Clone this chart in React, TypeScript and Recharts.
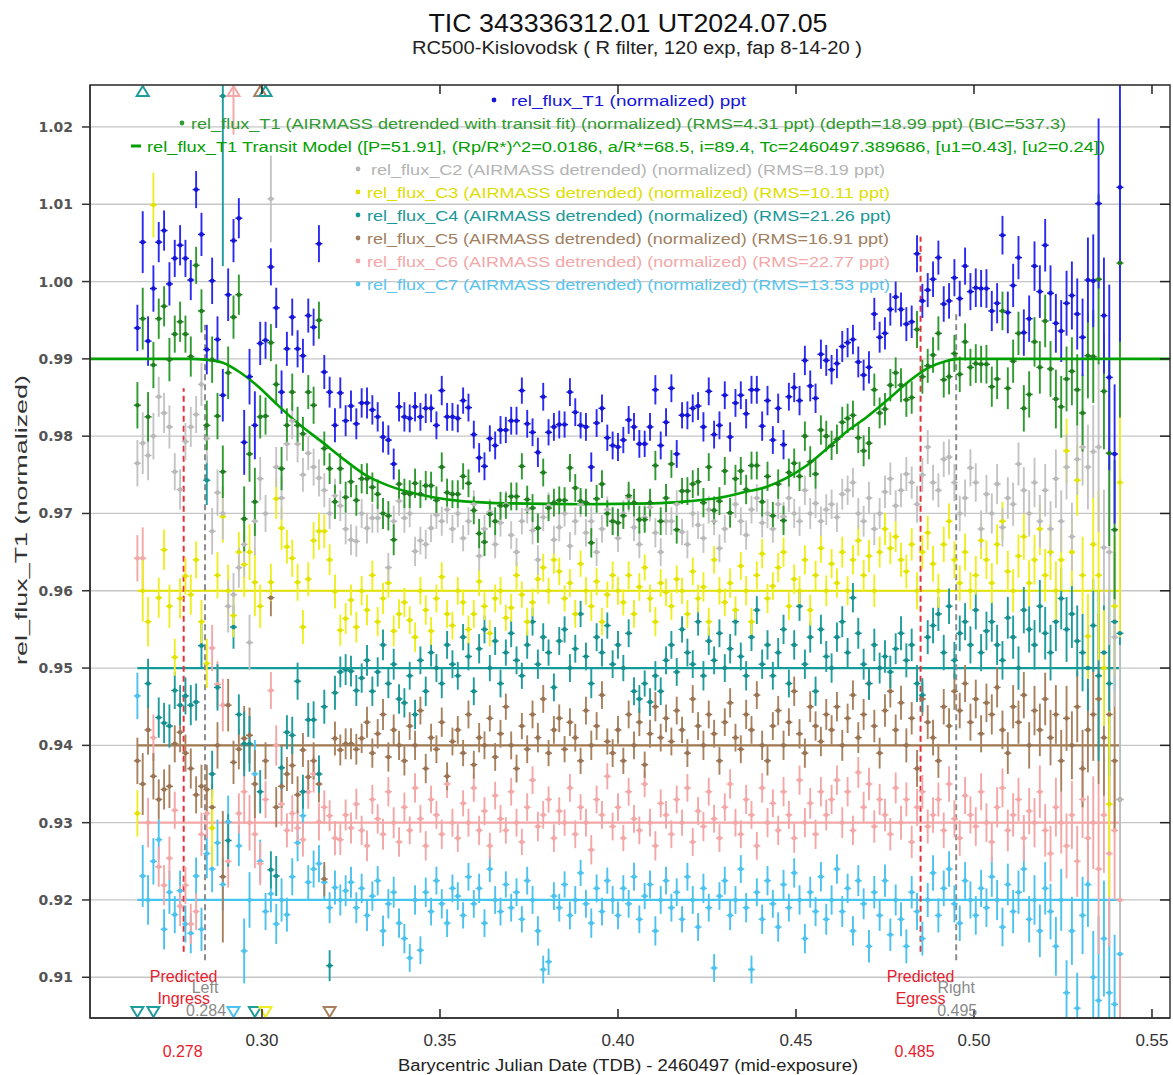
import React from "react";
import { ComposedChart, Scatter, Line, XAxis, YAxis, CartesianGrid, ErrorBar, ReferenceLine } from "recharts";

// plot frame (px) and axis ranges
const W = 1173;
const H = 1075;
const PLOT = { left: 90, right: 1170, top: 85, bottom: 1018 };
const X_MIN = 0.25169;
const X_MAX = 0.55506;
const Y_MIN = 0.90473;
const Y_MAX = 1.02543;

const FONT = "'Liberation Sans', Arial, sans-serif";

type Val = number | [number, number];

// BJD_TDB - 2460497
const times = [
  0.2650, 0.2665, 0.2680, 0.2695, 0.2710, 0.2725, 0.2740, 0.2755, 0.2770, 0.2785,
  0.2800, 0.2815, 0.2830, 0.2845, 0.2860, 0.2875, 0.2890, 0.2905, 0.2920, 0.2935,
  0.2950, 0.2965, 0.2980, 0.2995, 0.3010, 0.3025, 0.3040, 0.3055, 0.3070, 0.3085,
  0.3100, 0.3115, 0.3130, 0.3145, 0.3160, 0.3175, 0.3190, 0.3205, 0.3220, 0.3235,
  0.3250, 0.3265, 0.3280, 0.3295, 0.3310, 0.3325, 0.3340, 0.3355, 0.3370, 0.3385,
  0.3400, 0.3415, 0.3430, 0.3445, 0.3460, 0.3475, 0.3490, 0.3505, 0.3520, 0.3535,
  0.3550, 0.3565, 0.3580, 0.3595, 0.3610, 0.3625, 0.3640, 0.3655, 0.3670, 0.3685,
  0.3700, 0.3715, 0.3730, 0.3745, 0.3760, 0.3775, 0.3790, 0.3805, 0.3820, 0.3835,
  0.3850, 0.3865, 0.3880, 0.3895, 0.3910, 0.3925, 0.3940, 0.3955, 0.3970, 0.3985,
  0.4000, 0.4015, 0.4030, 0.4045, 0.4060, 0.4075, 0.4090, 0.4105, 0.4120, 0.4135,
  0.4150, 0.4165, 0.4180, 0.4195, 0.4210, 0.4225, 0.4240, 0.4255, 0.4270, 0.4285,
  0.4300, 0.4315, 0.4330, 0.4345, 0.4360, 0.4375, 0.4390, 0.4405, 0.4420, 0.4435,
  0.4450, 0.4465, 0.4480, 0.4495, 0.4510, 0.4525, 0.4540, 0.4555, 0.4570, 0.4585,
  0.4600, 0.4615, 0.4630, 0.4645, 0.4660, 0.4675, 0.4690, 0.4705, 0.4720, 0.4735,
  0.4750, 0.4765, 0.4780, 0.4795, 0.4810, 0.4825, 0.4840, 0.4855, 0.4870, 0.4885,
  0.4900, 0.4915, 0.4930, 0.4945, 0.4960, 0.4975, 0.4990, 0.5005, 0.5020, 0.5035,
  0.5050, 0.5065, 0.5080, 0.5095, 0.5110, 0.5125, 0.5140, 0.5155, 0.5170, 0.5185,
  0.5200, 0.5215, 0.5230, 0.5245, 0.5260, 0.5275, 0.5290, 0.5305, 0.5320, 0.5335,
  0.5350, 0.5365, 0.5380, 0.5395, 0.5410,
];

// photometric error per exposure (shared, airmass driven)
const errs = [
  0.0030, 0.0040, 0.0032, 0.0030, 0.0026, 0.0026, 0.0028, 0.0024, 0.0026, 0.0024,
  0.0026, 0.0024, 0.0028, 0.0032, 0.0030, 0.0030, 0.0034, 0.0034, 0.0028, 0.0026,
  0.0042, 0.0036, 0.0044, 0.0028, 0.0024, 0.0024, 0.0026, 0.0028, 0.0022, 0.0024,
  0.0024, 0.0022, 0.0022, 0.0024, 0.0024, 0.0022, 0.0020, 0.0022, 0.0020, 0.0020,
  0.0020, 0.0020, 0.0019, 0.0020, 0.0019, 0.0019, 0.0020, 0.0019, 0.0020, 0.0019,
  0.0019, 0.0018, 0.0019, 0.0018, 0.0019, 0.0018, 0.0018, 0.0019, 0.0018, 0.0018,
  0.0018, 0.0017, 0.0018, 0.0018, 0.0019, 0.0018, 0.0017, 0.0018, 0.0018, 0.0017,
  0.0018, 0.0018, 0.0017, 0.0018, 0.0018, 0.0019, 0.0018, 0.0017, 0.0018, 0.0018,
  0.0017, 0.0018, 0.0018, 0.0017, 0.0018, 0.0019, 0.0018, 0.0018, 0.0017, 0.0018,
  0.0018, 0.0017, 0.0018, 0.0018, 0.0018, 0.0017, 0.0018, 0.0019, 0.0018, 0.0018,
  0.0018, 0.0018, 0.0017, 0.0018, 0.0018, 0.0018, 0.0019, 0.0018, 0.0018, 0.0018,
  0.0018, 0.0019, 0.0018, 0.0018, 0.0019, 0.0018, 0.0018, 0.0019, 0.0019, 0.0018,
  0.0019, 0.0019, 0.0018, 0.0019, 0.0019, 0.0019, 0.0020, 0.0019, 0.0019, 0.0020,
  0.0019, 0.0019, 0.0020, 0.0019, 0.0019, 0.0020, 0.0020, 0.0021, 0.0021, 0.0020,
  0.0021, 0.0021, 0.0020, 0.0022, 0.0022, 0.0021, 0.0024, 0.0022, 0.0022, 0.0023,
  0.0022, 0.0023, 0.0023, 0.0024, 0.0023, 0.0024, 0.0024, 0.0025, 0.0024, 0.0025,
  0.0026, 0.0026, 0.0025, 0.0027, 0.0028, 0.0028, 0.0030, 0.0030, 0.0032, 0.0034,
  0.0034, 0.0036, 0.0038, 0.0040, 0.0042, 0.0044, 0.0046, 0.0050, 0.0055, 0.0060,
  0.0110, 0.0075, 0.0120, 0.0090, 0.0200,
];

const t1Flux: Val[] = [
  0.9940, 1.0051, 0.9923, 0.9991, 1.0051, 1.0066, 0.9997, 1.0030, 1.0047, 1.0030,
  1.0002, 1.0119, 1.0061, 0.9912, 1.0001, 0.9925, 0.9853, 0.9983, 1.0053, 1.0082,
  0.9792, 0.9877, 0.9814, 0.9920, 0.9924, 1.0019, 0.9966, 0.9857, 0.9913, 0.9954,
  0.9913, 0.9904, 0.9956, 0.9941, 1.0049, 0.9883, 0.9857, 0.9814, 0.9856, 0.9820,
  0.9839, 0.9816, 0.9843, 0.9843, 0.9834, 0.9825, 0.9799, 0.9795, 0.9764, 0.9838,
  0.9825, 0.9823, 0.9838, 0.9825, 0.9836, 0.9836, 0.9814, 0.9859, 0.9825, 0.9825,
  0.9823, 0.9846, 0.9837, 0.9802, 0.9772, 0.9761, 0.9797, 0.9788, 0.9808, 0.9808,
  0.9820, 0.9820, 0.9859, 0.9816, 0.9805, 0.9779, 0.9851, 0.9805, 0.9812, 0.9815,
  0.9815, 0.9857, 0.9831, 0.9814, 0.9812, 0.9760, 0.9817, 0.9836, 0.9798, 0.9788,
  0.9786, 0.9795, 0.9821, 0.9812, 0.9790, 0.9790, 0.9812, 0.9860, 0.9788, 0.9818,
  0.9862, 0.9777, 0.9827, 0.9827, 0.9836, 0.9839, 0.9812, 0.9858, 0.9802, 0.9814,
  0.9853, 0.9799, 0.9843, 0.9853, 0.9829, 0.9860, 0.9860, 0.9813, 0.9846, 0.9795,
  0.9836, 0.9789, 0.9851, 0.9863, 0.9846, 0.9898, 0.9865, 0.9849, 0.9906, 0.9898,
  0.9886, 0.9894, 0.9916, 0.9921, 0.9925, 0.9896, 0.9879, 0.9889, 0.9958, 0.9928,
  0.9933, 0.9964, 0.9980, 0.9964, 0.9945, 0.9948, 1.0036, 0.9975, 0.9989, 1.0003,
  1.0031, 0.9971, 0.9975, 1.0005, 0.9978, 1.0020, 0.9987, 0.9992, 0.9991, 0.9991,
  0.9962, 0.9972, 1.0060, 0.9960, 0.9995, 1.0031, 0.9934, 0.9952, 1.0020, 0.9987,
  1.0047, 0.9985, 0.9946, 0.9936, 0.9972, 0.9982, 0.9958, 0.9928, 1.0002, 1.0001,
  1.0101, 0.9956, 0.9876, 0.9777, 1.0122,
];

const t1Detrended: Val[] = [
  0.9840, 0.9952, 0.9825, 0.9892, 0.9952, 0.9968, 0.9899, 0.9932, 0.9948, 0.9932,
  0.9903, 1.0021, 0.9962, 0.9814, 0.9899, 0.9826, 0.9754, 0.9882, 0.9954, 0.9983,
  0.9693, 0.9777, 0.9715, 0.9825, 0.9826, 0.9921, 0.9867, 0.9758, 0.9814, 0.9857,
  0.9814, 0.9803, 0.9857, 0.9840, 0.9950, 0.9784, 0.9758, 0.9715, 0.9758, 0.9721,
  0.9741, 0.9717, 0.9745, 0.9745, 0.9734, 0.9725, 0.9700, 0.9697, 0.9666, 0.9738,
  0.9726, 0.9725, 0.9739, 0.9725, 0.9736, 0.9736, 0.9717, 0.9760, 0.9727, 0.9725,
  0.9725, 0.9748, 0.9739, 0.9704, 0.9674, 0.9663, 0.9699, 0.9690, 0.9710, 0.9710,
  0.9722, 0.9722, 0.9761, 0.9718, 0.9707, 0.9681, 0.9753, 0.9707, 0.9714, 0.9717,
  0.9717, 0.9759, 0.9733, 0.9716, 0.9714, 0.9662, 0.9719, 0.9738, 0.9700, 0.9690,
  0.9688, 0.9697, 0.9723, 0.9714, 0.9692, 0.9692, 0.9714, 0.9762, 0.9690, 0.9720,
  0.9764, 0.9679, 0.9729, 0.9729, 0.9738, 0.9741, 0.9714, 0.9760, 0.9704, 0.9716,
  0.9755, 0.9701, 0.9745, 0.9755, 0.9731, 0.9762, 0.9762, 0.9715, 0.9748, 0.9697,
  0.9738, 0.9691, 0.9753, 0.9765, 0.9748, 0.9800, 0.9767, 0.9751, 0.9808, 0.9800,
  0.9788, 0.9796, 0.9818, 0.9823, 0.9827, 0.9798, 0.9781, 0.9791, 0.9860, 0.9830,
  0.9835, 0.9866, 0.9882, 0.9866, 0.9847, 0.9850, 0.9938, 0.9877, 0.9891, 0.9905,
  0.9933, 0.9873, 0.9877, 0.9907, 0.9880, 0.9922, 0.9889, 0.9894, 0.9893, 0.9893,
  0.9864, 0.9874, 0.9962, 0.9862, 0.9897, 0.9933, 0.9836, 0.9854, 0.9922, 0.9889,
  0.9949, 0.9887, 0.9848, 0.9838, 0.9874, 0.9884, 0.9860, 0.9830, 0.9904, 0.9903,
  1.0003, 0.9858, 0.9778, 0.9679, 1.0024,
];

const c2Flux: Val[] = [
  0.9765, 0.9791, 0.9775, 0.9800, 0.9851, 0.9830, 0.9812, 0.9754, 0.9731, 0.9793,
  0.9812, 0.9828, 0.9867, 0.9797, 0.9677, 0.9727, 0.9700, 0.9580, 0.9595, 0.9630,
  0.9660, 0.9533, 0.9690, 0.9745, 0.9700, [1.0107, 0.0056], 0.9760, 0.9720, 0.9790, 0.9820,
  0.9790, 0.9750, 0.9778, 0.9760, 0.9746, 0.9730, 0.9700, 0.9723, 0.9710, 0.9680,
  0.9666, 0.9664, 0.9700, 0.9681, 0.9694, 0.9694, 0.9700, 0.9630, 0.9690, 0.9716,
  0.9694, 0.9700, 0.9651, 0.9665, 0.9660, 0.9681, 0.9698, 0.9690, 0.9705, 0.9680,
  0.9700, 0.9668, 0.9690, 0.9712, 0.9645, 0.9680, 0.9702, 0.9660, 0.9688, 0.9712,
  0.9672, 0.9650, 0.9690, 0.9705, 0.9678, 0.9640, 0.9695, 0.9710, 0.9666, 0.9682,
  0.9700, 0.9658, 0.9690, 0.9712, 0.9675, 0.9690, 0.9650, 0.9680, 0.9705, 0.9690,
  0.9668, 0.9700, 0.9720, 0.9682, 0.9660, 0.9695, 0.9708, 0.9675, 0.9650, 0.9690,
  0.9690, 0.9712, 0.9676, 0.9660, 0.9700, 0.9685, 0.9668, 0.9705, 0.9690, 0.9655,
  0.9680, 0.9700, 0.9712, 0.9690, 0.9672, 0.9705, 0.9720, 0.9688, 0.9700, 0.9680,
  0.9712, 0.9696, 0.9720, 0.9700, 0.9690, 0.9730, 0.9700, 0.9713, 0.9690, 0.9705,
  0.9712, 0.9695, 0.9725, 0.9730, 0.9740, 0.9700, 0.9690, 0.9720, 0.9680, 0.9700,
  0.9728, 0.9745, 0.9710, 0.9730, 0.9751, 0.9740, 0.9712, 0.9750, 0.9786, 0.9740,
  0.9730, 0.9770, 0.9773, 0.9740, 0.9700, 0.9720, 0.9759, 0.9740, 0.9680, 0.9725,
  0.9700, 0.9738, 0.9682, 0.9720, 0.9712, 0.9764, 0.9730, 0.9700, 0.9740, 0.9690,
  0.9730, 0.9680, 0.9745, 0.9690, 0.9760, 0.9670, 0.9770, 0.9786, 0.9760, 0.9780,
  0.9786, 0.9656, 0.9650, 0.9540, 0.9330,
];

const c3Flux: Val[] = [
  0.9312, 0.9600, 0.9560, [1.0099, 0.0042], 0.9591, 0.9653, 0.9580, 0.9514, 0.9590, 0.9619,
  0.9595, 0.9640, 0.9560, 0.9506, [0.9293, 0.0050], 0.9620, 0.9696, 0.9600, 0.9568, 0.9650,
  0.9634, 0.9650, 0.9611, 0.9580, 0.8900, 0.9611, 0.9719, 0.9681, 0.9657, 0.9642,
  0.9611, 0.9553, 0.9615, 0.9665, 0.9677, 0.9677, 0.9640, 0.9599, 0.9549, 0.9564,
  0.9588, 0.9553, 0.9600, 0.9575, 0.9620, 0.9560, 0.9590, 0.9610, 0.9548, 0.9570,
  0.9585, 0.9562, 0.9540, 0.9600, 0.9575, 0.9548, 0.9590, 0.9618, 0.9570, 0.9555,
  0.9600, 0.9585, 0.9550, 0.9570, 0.9612, 0.9580, 0.9545, 0.9590, 0.9600, 0.9565,
  0.9578, 0.9620, 0.9595, 0.9560, 0.9585, 0.9615, 0.9630, 0.9600, 0.9640, 0.9625,
  0.9590, 0.9610, 0.9570, 0.9635, 0.9600, 0.9580, 0.9612, 0.9560, 0.9595, 0.9620,
  0.9600, 0.9585, 0.9620, 0.9570, 0.9605, 0.9630, 0.9590, 0.9560, 0.9610, 0.9598,
  0.9580, 0.9615, 0.9600, 0.9570, 0.9625, 0.9590, 0.9605, 0.9560, 0.9640, 0.9600,
  0.9585, 0.9610, 0.9575, 0.9632, 0.9600, 0.9560, 0.9620, 0.9648, 0.9590, 0.9606,
  0.9630, 0.9650, 0.9580, 0.9615, 0.9600, 0.9640, 0.9575, 0.9620, 0.9655, 0.9600,
  0.9635, 0.9610, 0.9650, 0.9600, 0.9640, 0.9665, 0.9620, 0.9645, 0.9600, 0.9650,
  0.9680, 0.9655, 0.9670, 0.9640, 0.9625, 0.9660, 0.9600, 0.9650, 0.9675, 0.9635,
  0.9600, 0.9660, 0.9690, 0.9640, 0.9610, 0.9650, 0.9600, 0.9620, 0.9665, 0.9640,
  0.9610, 0.9660, 0.9690, 0.9625, 0.9600, 0.9645, 0.9670, 0.9610, 0.9640, 0.9680,
  0.9620, 0.9650, 0.9600, 0.9640, 0.9781, 0.9650, 0.9743, 0.9620, 0.9541, 0.9660,
  0.9620, 0.9500, 0.9324, 0.9580, 0.9740,
];

const c4Flux: Val[] = [
  0.8950, 1.0400, 0.9480, 0.8980, 0.9436, 0.9429, 0.9425, 0.9471, 0.9452, 0.9464,
  0.9452, 0.9456, 0.9529, 0.9743, 0.9363, 0.9475, [1.0240, 0.0220], 0.9277, 0.9553, 0.9440,
  0.9402, 0.9402, 0.8970, 0.9340, 1.0350, 0.9239, 0.9231, 0.9371, 0.9417, 0.9413,
  0.9483, 0.9340, 0.9433, 0.9433, 0.9363, 0.9450, 0.9115, 0.9468, 0.9495, 0.9498,
  0.9496, 0.9471, 0.9487, 0.9510, 0.9470, 0.9495, 0.9530, 0.9480, 0.9505, 0.9460,
  0.9455, 0.9490, 0.9440, 0.9510, 0.9470, 0.9520, 0.9500, 0.9480, 0.9530, 0.9505,
  0.9490, 0.9540, 0.9515, 0.9470, 0.9525, 0.9550, 0.9500, 0.9535, 0.9480, 0.9520,
  0.9545, 0.9510, 0.9490, 0.9530, 0.9560, 0.9505, 0.9540, 0.9520, 0.9475, 0.9535,
  0.9550, 0.9500, 0.9525, 0.9570, 0.9515, 0.9480, 0.9540, 0.9520, 0.9555, 0.9505,
  0.9530, 0.9500, 0.9545, 0.9470, 0.9460, 0.9480, 0.9456, 0.9490, 0.9470, 0.9510,
  0.9530, 0.9495, 0.9550, 0.9520, 0.9505, 0.9560, 0.9490, 0.9535, 0.9510, 0.9545,
  0.9500, 0.9525, 0.9560, 0.9515, 0.9490, 0.9540, 0.9575, 0.9505, 0.9530, 0.9490,
  0.9520, 0.9550, 0.9480, 0.9530, 0.9580, 0.9505, 0.9540, 0.9470, 0.9550, 0.9515,
  0.9500, 0.9540, 0.9560, 0.9520, 0.9591, 0.9545, 0.9505, 0.9480, 0.9530, 0.9500,
  0.9515, 0.9495, 0.9525, 0.9545, 0.9510, 0.9530, 0.9480, 0.9465, 0.9540, 0.9555,
  0.9570, 0.9520, 0.9580, 0.9510, 0.9545, 0.9560, 0.9530, 0.9575, 0.9520, 0.9548,
  0.9560, 0.9530, 0.9510, 0.9565, 0.9540, 0.9500, 0.9575, 0.9550, 0.9530, 0.9580,
  0.9545, 0.9520, 0.9560, 0.9590, 0.9550, 0.9570, 0.9535, 0.9520, 0.9500, 0.9555,
  0.9490, 0.9520, 0.9480, 0.9560, 0.9545,
];

const c5Flux: Val[] = [
  0.9380, 0.9350, 0.9420, 0.9360, 0.9330, 0.9343, 0.9347, 0.9402, 0.9417, 0.9390,
  0.9370, 0.9336, 0.9347, 0.9343, 0.9320, 0.9400, [0.9230, 0.0085], 0.9452, 0.9378, 0.9395,
  0.9409, 0.9413, 0.9350, 1.0300, 0.9380, 0.9591, 0.9320, 0.9347, 0.9363, 0.9374,
  0.9336, 0.9394, 0.9359, 0.9380, 0.9350, 0.9227, 0.8980, 0.9409, 0.9394, 0.9402,
  0.9402, 0.9395, 0.9409, 0.9430, 0.9390, 0.9415, 0.9440, 0.9385, 0.9420, 0.9400,
  0.9380, 0.9425, 0.9400, 0.9445, 0.9370, 0.9410, 0.9395, 0.9430, 0.9360, 0.9405,
  0.9420, 0.9390, 0.9440, 0.9375, 0.9410, 0.9400, 0.9435, 0.9385, 0.9415, 0.9450,
  0.9400, 0.9370, 0.9425, 0.9395, 0.9440, 0.9410, 0.9460, 0.9390, 0.9420, 0.9435,
  0.9395, 0.9430, 0.9410, 0.9380, 0.9445, 0.9400, 0.9425, 0.9465, 0.9405, 0.9390,
  0.9420, 0.9380, 0.9440, 0.9400, 0.9430, 0.9375, 0.9415, 0.9450, 0.9410, 0.9435,
  0.9405, 0.9445, 0.9420, 0.9390, 0.9460, 0.9425, 0.9400, 0.9440, 0.9415, 0.9380,
  0.9430, 0.9455, 0.9410, 0.9395, 0.9440, 0.9420, 0.9465, 0.9400, 0.9380, 0.9425,
  0.9445, 0.9400, 0.9430, 0.9470, 0.9415, 0.9390, 0.9450, 0.9425, 0.9405, 0.9440,
  0.9420, 0.9450, 0.9400, 0.9435, 0.9465, 0.9410, 0.9440, 0.9480, 0.9425, 0.9390,
  0.9445, 0.9470, 0.9420, 0.9455, 0.9400, 0.9435, 0.9370, 0.9460, 0.9430, 0.9410,
  0.9380, 0.9450, 0.9425, 0.9470, 0.9445, 0.9480, 0.9430, 0.9460, 0.9415, 0.9455,
  0.9440, 0.9475, 0.9420, 0.9390, 0.9450, 0.9430, 0.9465, 0.9400, 0.9445, 0.9420,
  0.9460, 0.9410, 0.9440, 0.9380, 0.9435, 0.9400, 0.9450, 0.9370, 0.9420, 0.9440,
  0.9460, 0.9410, 0.9440, 0.9380, 0.9330,
];

const c6Flux: Val[] = [
  0.9642, 0.9642, 0.9300, 0.9410, 0.9243, 0.9219, 0.9254, 0.9316, 0.9192, 0.9219,
  0.9169, 0.9185, 0.9285, 0.9312, 0.9526, 0.9479, 0.9452, 0.9250, [1.0300, 0.0110], 0.9312,
  0.9340, 0.9300, 0.9285, 0.9247, 0.9330, 0.9471, 0.9400, 0.9324, 0.9290, 0.9312,
  0.9293, 0.9278, 0.9340, 0.9363, 0.9301, 0.9320, 0.9309, 0.9280, 0.9278, 0.9310,
  0.9293, 0.9324, 0.9290, 0.9270, 0.9330, 0.9305, 0.9285, 0.9340, 0.9300, 0.9275,
  0.9320, 0.9290, 0.9345, 0.9305, 0.9270, 0.9330, 0.9310, 0.9285, 0.9350, 0.9300,
  0.9280, 0.9325, 0.9300, 0.9345, 0.9290, 0.9315, 0.9270, 0.9335, 0.9305, 0.9290,
  0.9340, 0.9300, 0.9275, 0.9320, 0.9355, 0.9295, 0.9310, 0.9330, 0.9280, 0.9315,
  0.9300, 0.9345, 0.9285, 0.9320, 0.9300, 0.9265, 0.9330, 0.9310, 0.9360, 0.9295,
  0.9320, 0.9280, 0.9340, 0.9305, 0.9290, 0.9350, 0.9300, 0.9270, 0.9325, 0.9310,
  0.9285, 0.9330, 0.9300, 0.9345, 0.9275, 0.9315, 0.9295, 0.9340, 0.9305, 0.9280,
  0.9320, 0.9350, 0.9300, 0.9285, 0.9330, 0.9310, 0.9270, 0.9345, 0.9300, 0.9325,
  0.9290, 0.9340, 0.9310, 0.9280, 0.9355, 0.9300, 0.9325, 0.9285, 0.9340, 0.9310,
  0.9330, 0.9355, 0.9300, 0.9340, 0.9290, 0.9365, 0.9320, 0.9350, 0.9295, 0.9330,
  0.9310, 0.9285, 0.9345, 0.9300, 0.9330, 0.9275, 0.9320, 0.9340, 0.9295, 0.9310,
  0.9330, 0.9290, 0.9350, 0.9305, 0.9280, 0.9335, 0.9310, 0.9295, 0.9340, 0.9300,
  0.9275, 0.9320, 0.9345, 0.9290, 0.9310, 0.9330, 0.9280, 0.9315, 0.9300, 0.9340,
  0.9290, 0.9260, 0.9320, 0.9300, 0.9270, 0.9310, 0.9250, 0.9330, 0.9280, 0.9300,
  0.9240, 0.9310, 0.9260, 0.9290, 0.9200,
];

const c7Flux: Val[] = [
  0.9464, 0.9231, 0.9200, 0.9250, 0.9278, 0.9162, 0.9210, 0.9181, 0.9212, 0.9169,
  0.9157, 0.9231, 0.9162, 0.9260, 0.9240, 0.9274, 0.9220, 0.9301, 0.8990, 0.9270,
  0.9134, 0.9200, 0.9363, 0.9250, 0.9185, 0.9208, 0.9169, 0.9200, 0.9181, 0.9230,
  0.9274, 0.9309, 0.9223, 0.9240, 0.9247, 0.9223, 0.9190, 0.9216, 0.9200, 0.9212,
  0.9223, 0.9190, 0.9215, 0.9180, 0.9205, 0.9225, 0.9160, 0.9195, 0.9210, 0.9170,
  0.9150, 0.9125, 0.9200, 0.9135, 0.9210, 0.9185, 0.9225, 0.9195, 0.9170, 0.9215,
  0.9205, 0.9180, 0.9230, 0.9195, 0.9215, 0.9170, 0.9240, 0.9200, 0.9185, 0.9220,
  0.9190, 0.9210, 0.9175, 0.9225, 0.9200, 0.9160, 0.9110, 0.9120, 0.9205, 0.9190,
  0.9220, 0.9180, 0.9200, 0.9235, 0.9195, 0.9170, 0.9215, 0.9185, 0.9225, 0.9200,
  0.9180, 0.9215, 0.9195, 0.9230, 0.9175, 0.9205, 0.9220, 0.9160, 0.9200, 0.9225,
  0.9190, 0.9210, 0.9175, 0.9230, 0.9200, 0.9165, 0.9215, 0.9190, 0.9112, 0.9205,
  0.9225, 0.9180, 0.9200, 0.9240, 0.9190, 0.9110, 0.9210, 0.9175, 0.9225, 0.9195,
  0.9165, 0.9220, 0.9190, 0.9235, 0.9200, 0.9150, 0.9210, 0.9185, 0.9230, 0.9175,
  0.9200, 0.9240, 0.9185, 0.9215, 0.9160, 0.9225, 0.9195, 0.9140, 0.9210, 0.9180,
  0.9225, 0.9155, 0.9200, 0.9175, 0.9140, 0.9210, 0.9185, 0.9150, 0.9200, 0.9235,
  0.9180, 0.9215, 0.9240, 0.9195, 0.9170, 0.9225, 0.9200, 0.9180, 0.9215, 0.9190,
  0.9230, 0.9200, 0.9165, 0.9220, 0.9185, 0.9210, 0.9240, 0.9175, 0.9200, 0.9160,
  0.9215, 0.9185, 0.9140, 0.9200, 0.9080, 0.9160, 0.9060, 0.9180, 0.9220, 0.9100,
  0.9070, 0.9150, 0.9080, 0.9065, 0.9130,
];

// transit model (sampled)
const modelTimes = [
  0.2517, 0.2800, 0.2840, 0.2890, 0.2940, 0.2990, 0.3040, 0.3100, 0.3170, 0.3230,
  0.3290, 0.3350, 0.3410, 0.3480, 0.3560, 0.3700, 0.3900, 0.4100, 0.4200, 0.4280,
  0.4350, 0.4420, 0.4470, 0.4530, 0.4590, 0.4640, 0.4700, 0.4760, 0.4820, 0.4870,
  0.4920, 0.4960, 0.5551,
];
const modelFlux = [
  0.9900, 0.9900, 0.9899, 0.9895, 0.9882, 0.9864, 0.9842, 0.9817, 0.9792, 0.9770,
  0.9750, 0.9737, 0.9728, 0.9721, 0.9716, 0.9713, 0.9712, 0.9713, 0.9716, 0.9720,
  0.9727, 0.9735, 0.9745, 0.9762, 0.9785, 0.9805, 0.9825, 0.9848, 0.9872, 0.9888,
  0.9897, 0.9900, 0.9900,
];

// comparison star normalisation levels (C3..C7)
const compLevels = [0.96, 0.95, 0.94, 0.93, 0.92];

const predictedTimes = [0.278, 0.485];
const fitLimitTimes = [0.284, 0.495];

const xTicks = [0.30, 0.35, 0.40, 0.45, 0.50, 0.55];
const yTicks = [0.91, 0.92, 0.93, 0.94, 0.95, 0.96, 0.97, 0.98, 0.99, 1.00, 1.01, 1.02];

const legendLabels = [
  "rel_flux_T1 (normalized) ppt",
  "rel_flux_T1 (AIRMASS detrended with transit fit) (normalized) (RMS=4.31 ppt) (depth=18.99 ppt) (BIC=537.3)",
  "rel_flux_T1 Transit Model ([P=51.91], (Rp/R*)^2=0.0186, a/R*=68.5, i=89.4, Tc=2460497.389686, [u1=0.43], [u2=0.24])",
  "rel_flux_C2 (AIRMASS detrended) (normalized) (RMS=8.19 ppt)",
  "rel_flux_C3 (AIRMASS detrended) (normalized) (RMS=10.11 ppt)",
  "rel_flux_C4 (AIRMASS detrended) (normalized) (RMS=21.26 ppt)",
  "rel_flux_C5 (AIRMASS detrended) (normalized) (RMS=16.91 ppt)",
  "rel_flux_C6 (AIRMASS detrended) (normalized) (RMS=22.77 ppt)",
  "rel_flux_C7 (AIRMASS detrended) (normalized) (RMS=13.53 ppt)",
];

// layout of the legend rows: [text x, text width, marker x, kind]
const legendLayout: [number, number, number, string][] = [
  [511, 235, 494, "dot"],
  [191, 875, 182, "dot"],
  [147, 958, 136, "dash"],
  [371, 514, 358, "dot"],
  [367, 523, 358, "dot"],
  [367, 524, 358, "dot"],
  [367, 522, 358, "dot"],
  [367, 523, 358, "dot"],
  [367, 523, 358, "dot"],
];

const COLORS = {
  t1: "#1515d8",
  t1Bar: "#2a2af0",
  det: "#1f7f1f",
  detBar: "#2f9a2f",
  model: "#00a000",
  c2: "#b9b9b9",
  c3: "#e3e300",
  c4: "#168f8f",
  c5: "#9a7352",
  c6: "#f3a7a7",
  c7: "#4cc2ee",
};
const legendColors = [COLORS.t1, "#2f9a2f", COLORS.model, "#b4b4b4", "#dede00", "#1a9898", "#a07e60", "#f2a8a8", "#58c4ee"];

const px = (t: number) => PLOT.left + ((t - X_MIN) / (X_MAX - X_MIN)) * (PLOT.right - PLOT.left);
const py = (v: number) => PLOT.top + ((Y_MAX - v) / (Y_MAX - Y_MIN)) * (PLOT.bottom - PLOT.top);

// split a series into plotted points (error bars trimmed to the frame) and off-scale markers
function build(vals: Val[]) {
  const pts: { t: number; v: number; e: [number, number]; off: boolean }[] = [];
  const over: { t: number; v: number }[] = [];
  const under: { t: number; v: number }[] = [];
  vals.forEach((raw, i) => {
    const [v, err] = Array.isArray(raw) ? raw : [raw, errs[i]];
    const lo = Math.max(v - err, Y_MIN);
    const hi = Math.min(v + err, Y_MAX);
    const off = v > Y_MAX || v < Y_MIN;
    const e: [number, number] = lo < hi ? [v - lo, hi - v] : [0, 0];
    pts.push({ t: times[i], v: lo < hi ? v : Math.min(Math.max(v, Y_MIN), Y_MAX), e, off });
    if (v > Y_MAX) over.push({ t: times[i], v: Y_MAX });
    else if (v < Y_MIN) under.push({ t: times[i], v: Y_MIN });
  });
  return { pts, over, under };
}

const seriesDefs = [
  { id: "c7", vals: c7Flux, color: COLORS.c7, bar: COLORS.c7 },
  { id: "c6", vals: c6Flux, color: COLORS.c6, bar: COLORS.c6 },
  { id: "c5", vals: c5Flux, color: COLORS.c5, bar: "#a8825f" },
  { id: "c4", vals: c4Flux, color: COLORS.c4, bar: "#1f9c9c" },
  { id: "c3", vals: c3Flux, color: COLORS.c3, bar: "#eeee22" },
  { id: "c2", vals: c2Flux, color: COLORS.c2, bar: "#c4c4c4" },
  { id: "det", vals: t1Detrended, color: COLORS.det, bar: COLORS.detBar },
  { id: "t1", vals: t1Flux, color: COLORS.t1, bar: COLORS.t1Bar },
].map((s) => ({ ...s, ...build(s.vals) }));

const levelColors = [COLORS.c3, "#129a9a", "#a07850", "#f4a8a8", "#45c6f2"];

const modelData = modelTimes.map((t, i) => ({ t, v: modelFlux[i] }));

const dotShape = (color: string) => (p: any) => {
  if (p.cx == null || p.cy == null || (p.payload && p.payload.off)) return <g />;
  return (
    <g>
      <line x1={p.cx - 3.5} x2={p.cx + 3.5} y1={p.cy} y2={p.cy} stroke={color} strokeWidth={1.4} />
      <circle cx={p.cx} cy={p.cy} r={2.3} fill={color} />
    </g>
  );
};

const triShape = (color: string, up: boolean) => (p: any) => {
  const { cx, cy } = p;
  if (cx == null || cy == null) return <g />;
  const d = up
    ? `M${cx},${cy + 1} L${cx + 6},${cy + 11} L${cx - 6},${cy + 11} Z`
    : `M${cx},${cy - 1} L${cx + 6},${cy - 11} L${cx - 6},${cy - 11} Z`;
  return <path d={d} fill="none" stroke={color} strokeWidth={2} />;
};

const XTick = (props: any) => {
  const { x, y, payload } = props;
  return (
    <g>
      <line x1={x} x2={x} y1={y} y2={y - 9} stroke="#222" strokeWidth={1.5} />
      <text x={x} y={y + 28} textAnchor="middle" fontSize={17} fill="#333" fontFamily={FONT}>
        {Number(payload.value).toFixed(2)}
      </text>
    </g>
  );
};

export default function App() {
  return (
    <div style={{ position: "absolute", left: 0, top: 0, width: W, height: H, background: "#fff" }}>
      <ComposedChart width={W} height={H} margin={{ top: PLOT.top, right: W - PLOT.right, bottom: 0, left: 0 }}>
        <CartesianGrid vertical={false} stroke="#c6c6c6" strokeWidth={1.3} />
        <XAxis
          type="number"
          dataKey="t"
          domain={[X_MIN, X_MAX]}
          allowDataOverflow
          ticks={xTicks}
          height={H - PLOT.bottom}
          tickSize={0}
          tickMargin={0}
          tickLine={false}
          tick={<XTick />}
          axisLine={{ stroke: "#333", strokeWidth: 1.5 }}
        />
        <YAxis
          type="number"
          dataKey="v"
          domain={[Y_MIN, Y_MAX]}
          allowDataOverflow
          ticks={yTicks}
          width={PLOT.left}
          tickSize={8}
          tickMargin={9}
          tickFormatter={(v: number) => v.toFixed(2)}
          tick={{ fill: "#555", fontSize: 14, fontFamily: "'DejaVu Sans', sans-serif", fontWeight: "bold" }}
          tickLine={{ stroke: "#333", strokeWidth: 1.5 }}
          axisLine={{ stroke: "#333", strokeWidth: 1.5 }}
        />

        {compLevels.map((lv, i) => (
          <Line
            key={`lvl${i}`}
            data={[
              { t: times[0], v: lv },
              { t: times[times.length - 1], v: lv },
            ]}
            dataKey="v"
            stroke={levelColors[i]}
            strokeWidth={2.2}
            dot={false}
            isAnimationActive={false}
          />
        ))}

        {predictedTimes.map((t, i) => (
          <ReferenceLine
            key={`pred${i}`}
            segment={[
              { x: t, y: 0.9133 },
              { x: t, y: i === 0 ? 0.9862 : 1.0058 },
            ]}
            stroke="#e8303a"
            strokeWidth={2}
            strokeDasharray="6 4"
          />
        ))}
        {fitLimitTimes.map((t, i) => (
          <ReferenceLine
            key={`fit${i}`}
            segment={[
              { x: t, y: 0.9122 },
              { x: t, y: i === 0 ? 0.9944 : 0.9959 },
            ]}
            stroke="#8c8c8c"
            strokeWidth={2}
            strokeDasharray="6 4"
          />
        ))}

        {seriesDefs.map((s) => (
          <Scatter
            key={s.id}
            data={s.pts}
            dataKey="v"
            fill={s.color}
            shape={dotShape(s.color)}
            isAnimationActive={false}
          >
            <ErrorBar dataKey="e" direction="y" width={0} stroke={s.bar} strokeWidth={1.9} isAnimationActive={false} />
          </Scatter>
        ))}

        <Line
          data={modelData}
          dataKey="v"
          type="monotone"
          stroke={COLORS.model}
          strokeWidth={2.6}
          dot={false}
          isAnimationActive={false}
        />

        {seriesDefs.map((s) =>
          s.over.length ? (
            <Scatter key={`${s.id}-o`} data={s.over} dataKey="v" shape={triShape(s.bar, true)} isAnimationActive={false} />
          ) : null
        )}
        {seriesDefs.map((s) =>
          s.under.length ? (
            <Scatter key={`${s.id}-u`} data={s.under} dataKey="v" shape={triShape(s.bar, false)} isAnimationActive={false} />
          ) : null
        )}
      </ComposedChart>

      <svg width={W} height={H} style={{ position: "absolute", left: 0, top: 0, pointerEvents: "none" }}>
        <rect
          x={PLOT.left}
          y={PLOT.top}
          width={PLOT.right - PLOT.left}
          height={PLOT.bottom - PLOT.top}
          fill="none"
          stroke="#333"
          strokeWidth={1.5}
        />
        {xTicks.map((t) => (
          <line key={`tt${t}`} x1={px(t)} x2={px(t)} y1={PLOT.top} y2={PLOT.top + 9} stroke="#222" strokeWidth={1.5} />
        ))}
        {yTicks.map((v) => (
          <line key={`rt${v}`} x1={PLOT.right - 10} x2={PLOT.right} y1={py(v)} y2={py(v)} stroke="#222" strokeWidth={1.5} />
        ))}

        <text x={628} y={32} textAnchor="middle" fontSize={25} fill="#111" fontFamily={FONT} textLength={399} lengthAdjust="spacingAndGlyphs">
          TIC 343336312.01 UT2024.07.05
        </text>
        <text x={637} y={54} textAnchor="middle" fontSize={18} fill="#222" fontFamily={FONT} textLength={450} lengthAdjust="spacingAndGlyphs">
          RC500-Kislovodsk ( R filter, 120 exp, fap 8-14-20 )
        </text>

        {legendLabels.map((label, i) => {
          const [tx, tw, mx, kind] = legendLayout[i];
          const cy = 100 + i * 23;
          const c = legendColors[i];
          return (
            <g key={`lg${i}`}>
              {kind === "dot" ? (
                <circle cx={mx} cy={cy} r={2.4} fill={c} />
              ) : (
                <line x1={mx - 5} x2={mx + 5} y1={cy} y2={cy} stroke={c} strokeWidth={3} />
              )}
              <text x={tx} y={cy + 5.5} fontSize={15.5} fill={c} fontFamily={FONT} textLength={tw} lengthAdjust="spacingAndGlyphs">
                {label}
              </text>
            </g>
          );
        })}

        <text
          transform={`translate(27, 520) rotate(-90)`}
          textAnchor="middle"
          fontSize={16}
          fill="#333"
          fontFamily={FONT}
          textLength={290}
          lengthAdjust="spacingAndGlyphs"
        >
          rel_flux_T1 (normalized)
        </text>
        <text x={628} y={1071} textAnchor="middle" fontSize={16} fill="#222" fontFamily={FONT} textLength={460} lengthAdjust="spacingAndGlyphs">
          Barycentric Julian Date (TDB) - 2460497 (mid-exposure)
        </text>

        {predictedTimes.map((t, i) => (
          <g key={`pl${i}`} fill="#e8202e" fontFamily={FONT} fontSize={16} textAnchor="middle">
            <text x={px(t)} y={982}>Predicted</text>
            <text x={px(t)} y={1004}>{i === 0 ? "Ingress" : "Egress"}</text>
            <text x={px(t) - (i === 0 ? 1 : 6)} y={1057}>{t.toFixed(3)}</text>
          </g>
        ))}
        {fitLimitTimes.map((t, i) => (
          <g key={`fl${i}`} fill="#8a8a8a" fontFamily={FONT} fontSize={16} textAnchor="middle">
            <text x={px(t)} y={993}>{i === 0 ? "Left" : "Right"}</text>
            <text x={px(t) + 1} y={1016}>{t.toFixed(3)}</text>
          </g>
        ))}
      </svg>
    </div>
  );
}
